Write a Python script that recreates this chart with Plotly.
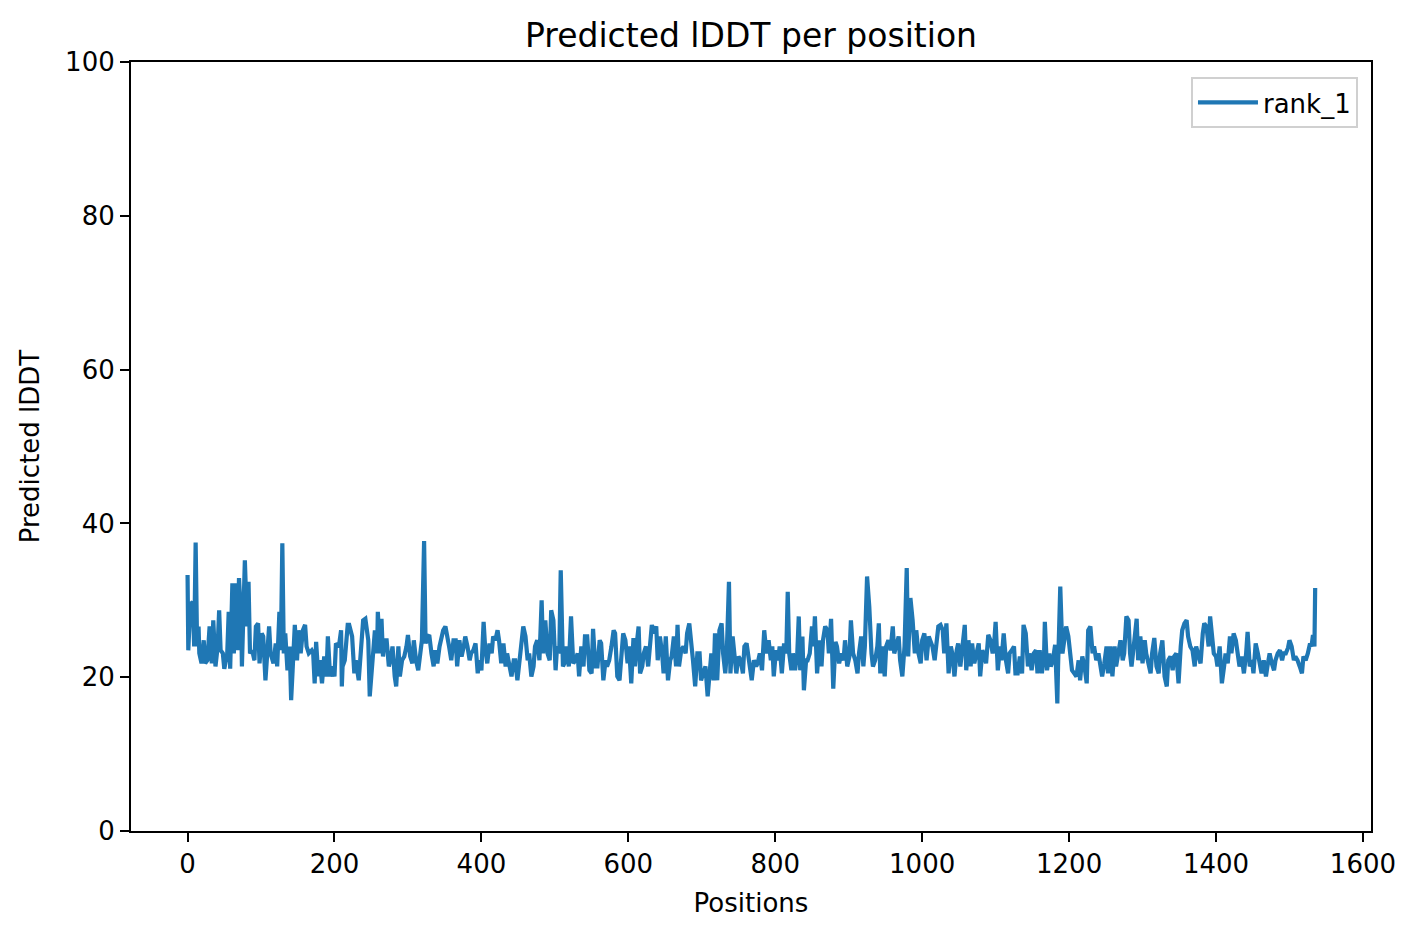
import plotly.graph_objects as go

# (position, predicted lDDT), split by region
seg_0_250 = [
    (0, 33.3), (1, 23.5), (3, 27.9), (5, 29.6), (7, 29.8), (9, 24.0), (11, 37.5), (13, 24.0),
    (15, 26.6), (16, 23.1), (19, 21.8), (22, 24.8), (24, 21.8), (27, 22.2), (30, 26.6), (33, 21.8),
    (35, 27.4), (38, 21.4), (41, 24.0), (43, 28.7), (45, 23.5), (48, 23.1), (50, 21.1), (54, 23.1),
    (56, 28.5), (58, 21.1), (61, 32.2), (63, 23.1), (66, 32.2), (68, 23.5), (70, 32.9), (73, 27.4),
    (74, 21.4), (78, 35.2), (81, 26.6), (83, 32.4), (85, 23.1), (88, 23.5), (91, 22.2), (93, 26.6),
    (96, 27.0), (98, 21.8), (101, 25.7), (103, 25.3), (106, 19.6), (109, 24.0), (111, 26.6), (113, 23.1),
    (117, 21.8), (120, 24.4), (122, 21.4), (125, 28.5), (127, 23.5), (129, 37.4), (131, 23.1), (133, 25.7),
    (136, 20.9), (139, 24.0), (141, 17.0), (143, 20.9), (146, 26.8), (149, 22.2), (151, 26.1), (154, 23.1),
    (157, 26.1), (160, 26.8), (162, 24.0), (165, 23.1), (169, 23.5), (171, 23.1), (173, 19.2), (175, 24.6),
    (178, 20.1), (180, 22.2), (183, 19.2), (186, 22.7), (189, 20.1), (191, 25.3), (194, 20.1), (197, 21.4),
    (200, 20.1), (202, 24.4), (206, 24.0), (209, 26.1), (210, 18.8), (211, 21.4), (214, 22.2), (218, 26.8),
    (220, 26.8), (224, 25.3), (227, 20.5), (229, 22.2), (233, 19.6), (237, 25.7), (239, 27.4), (242, 27.6),
    (246, 24.8), (248, 17.5),
]

seg_250_506 = [
    (252, 22.2), (255, 26.1), (258, 23.1), (259, 28.5), (262, 23.1), (264, 27.6), (266, 22.7), (268, 24.8),
    (271, 24.8), (274, 21.4), (277, 22.7), (279, 24.0), (282, 20.1), (284, 18.8), (287, 24.0), (289, 20.1),
    (292, 22.2), (295, 22.7), (298, 24.0), (300, 25.5), (303, 22.7), (306, 21.8), (308, 24.8), (311, 22.2),
    (314, 20.9), (317, 23.1), (319, 24.8), (322, 37.7), (324, 24.4), (327, 25.3), (329, 25.5), (332, 23.1),
    (335, 21.4), (337, 23.5), (340, 21.8), (343, 24.0), (346, 25.7), (348, 26.1), (351, 26.6), (354, 25.3),
    (356, 24.0), (359, 22.2), (362, 24.8), (365, 24.8), (367, 21.4), (370, 24.8), (373, 22.7), (376, 24.0),
    (378, 25.3), (381, 24.0), (384, 22.2), (386, 23.1), (389, 23.5), (392, 24.4), (395, 20.5), (397, 22.2),
    (400, 20.9), (403, 27.2), (405, 24.0), (408, 21.8), (411, 24.4), (414, 23.1), (416, 25.3), (419, 24.8),
    (422, 26.1), (424, 24.8), (427, 21.8), (430, 24.4), (433, 21.4), (435, 23.1), (438, 21.4), (441, 20.1),
    (444, 22.2), (446, 22.2), (449, 19.6), (452, 23.1), (454, 24.0), (457, 26.6), (460, 25.3), (463, 22.2),
    (465, 23.1), (468, 20.1), (471, 21.4), (473, 24.0), (476, 24.8), (479, 22.2), (482, 30.0), (484, 23.1),
    (487, 27.4), (490, 23.1), (493, 22.2), (495, 28.7), (498, 27.4), (501, 20.9), (503, 24.0), (506, 23.1),
]

seg_506_765 = [
    (508, 33.9), (511, 21.4), (513, 21.8), (516, 24.0), (519, 21.4), (522, 27.9), (525, 21.8), (528, 22.2),
    (531, 23.1), (533, 20.1), (536, 24.0), (539, 21.4), (541, 25.3), (544, 25.3), (547, 20.9), (550, 20.5),
    (552, 26.3), (555, 21.4), (558, 21.4), (561, 24.8), (563, 24.4), (566, 19.6), (569, 22.2), (571, 21.4),
    (574, 22.2), (577, 24.0), (580, 26.1), (582, 25.7), (585, 20.1), (588, 19.6), (590, 22.2), (593, 25.7),
    (596, 24.8), (599, 21.8), (601, 24.0), (604, 19.2), (607, 25.1), (609, 21.4), (612, 24.8), (614, 26.6),
    (616, 20.5), (619, 21.4), (621, 23.1), (624, 24.0), (627, 21.4), (630, 24.8), (632, 26.8), (635, 25.7),
    (638, 26.6), (640, 22.2), (643, 25.3), (646, 23.1), (648, 20.5), (651, 25.3), (654, 19.6), (657, 22.2),
    (659, 22.7), (662, 25.3), (665, 21.4), (667, 26.8), (669, 21.4), (672, 23.5), (675, 24.0), (678, 23.1),
    (680, 25.7), (683, 27.0), (686, 23.1), (688, 22.2), (691, 18.8), (694, 23.1), (697, 23.1), (699, 19.6),
    (702, 20.5), (705, 21.4), (708, 17.5), (710, 19.6), (713, 23.1), (716, 19.6), (718, 25.7), (721, 19.6),
    (724, 26.1), (727, 27.0), (729, 23.1), (732, 20.5), (734, 23.1), (737, 32.4), (739, 20.5), (742, 25.3),
    (745, 21.4), (747, 20.5), (750, 22.7), (753, 22.2), (756, 20.5), (758, 24.0), (761, 24.4), (764, 22.2),
]

seg_765_1035 = [
    (766, 20.5), (768, 19.6), (771, 22.2), (774, 21.4), (776, 21.8), (779, 23.1), (782, 20.9), (785, 26.1),
    (788, 23.1), (791, 24.8), (794, 22.2), (796, 24.0), (798, 20.1), (801, 23.5), (804, 22.2), (806, 24.0),
    (809, 20.5), (812, 24.4), (815, 23.1), (817, 31.1), (819, 23.1), (822, 20.9), (824, 23.1), (827, 20.9),
    (830, 23.1), (832, 27.9), (834, 20.9), (837, 25.3), (839, 18.3), (842, 22.2), (844, 22.2), (847, 23.1),
    (850, 26.6), (852, 24.0), (854, 27.9), (857, 20.5), (860, 24.8), (863, 21.4), (865, 24.8), (868, 26.6),
    (871, 26.1), (873, 23.1), (876, 27.6), (879, 18.5), (882, 24.6), (884, 24.0), (887, 21.8), (890, 23.1),
    (893, 22.2), (895, 24.8), (898, 21.4), (901, 22.7), (903, 27.4), (906, 23.1), (909, 22.2), (912, 20.5),
    (914, 23.1), (917, 25.3), (920, 21.4), (922, 24.0), (925, 33.1), (928, 29.2), (931, 23.1), (933, 21.4),
    (936, 22.2), (939, 24.0), (941, 27.0), (943, 20.5), (946, 24.0), (949, 20.1), (951, 24.0), (954, 24.8),
    (957, 23.5), (960, 26.6), (962, 23.1), (965, 24.0), (968, 25.3), (970, 22.2), (973, 20.1), (976, 24.0),
    (979, 34.2), (981, 22.7), (984, 30.3), (987, 27.4), (990, 23.1), (992, 26.1), (995, 23.1), (998, 21.8),
    (1000, 24.8), (1003, 25.7), (1006, 22.2), (1009, 25.3), (1011, 24.8), (1014, 24.0), (1017, 22.2), (1020, 24.8),
    (1022, 26.6), (1025, 26.8), (1028, 26.1), (1030, 23.1), (1033, 27.0),
]

seg_1035_1284 = [
    (1036, 20.5), (1039, 24.0), (1041, 23.1), (1044, 20.1), (1047, 23.5), (1049, 24.4), (1052, 21.4), (1055, 24.8),
    (1058, 26.8), (1060, 20.9), (1063, 24.8), (1066, 21.4), (1068, 24.4), (1071, 21.8), (1074, 23.1), (1077, 24.4),
    (1079, 20.1), (1082, 23.5), (1085, 22.7), (1087, 21.8), (1090, 25.5), (1093, 24.8), (1096, 23.1), (1098, 24.4),
    (1100, 27.2), (1103, 20.9), (1106, 24.0), (1108, 22.2), (1111, 25.7), (1114, 22.2), (1117, 20.5), (1119, 23.1),
    (1122, 23.5), (1125, 24.0), (1127, 20.5), (1130, 20.5), (1133, 22.7), (1136, 20.5), (1138, 26.8), (1141, 25.7),
    (1144, 21.4), (1146, 23.1), (1149, 20.9), (1152, 23.1), (1155, 23.5), (1157, 20.5), (1160, 23.5), (1163, 20.5),
    (1166, 23.1), (1167, 27.2), (1170, 20.9), (1173, 23.1), (1175, 21.4), (1178, 22.2), (1181, 24.2), (1184, 16.6),
    (1185, 21.4), (1188, 31.8), (1191, 23.1), (1194, 25.3), (1196, 26.6), (1199, 25.3), (1202, 23.1), (1204, 20.9),
    (1207, 20.5), (1210, 20.1), (1213, 22.2), (1215, 19.6), (1218, 22.7), (1221, 21.4), (1224, 19.2), (1226, 26.1),
    (1229, 26.6), (1232, 23.1), (1234, 24.0), (1237, 22.2), (1240, 23.1), (1243, 21.4), (1245, 20.1), (1248, 21.8),
    (1251, 24.0), (1253, 20.5), (1256, 24.0), (1259, 20.1), (1262, 24.0), (1264, 21.4), (1267, 23.1), (1270, 24.8),
    (1273, 22.2), (1275, 23.1), (1278, 27.9), (1281, 27.4), (1283, 23.1),
]

seg_1284_end = [
    (1285, 21.4), (1288, 24.0), (1292, 27.6), (1294, 22.2), (1297, 25.3), (1300, 21.8), (1303, 24.8), (1305, 23.1),
    (1308, 21.4), (1311, 20.5), (1313, 23.1), (1316, 25.1), (1319, 21.4), (1322, 20.5), (1324, 23.1), (1327, 24.8),
    (1330, 20.1), (1333, 18.8), (1335, 22.2), (1338, 22.7), (1341, 20.9), (1343, 22.7), (1346, 23.1), (1349, 19.2),
    (1352, 24.0), (1354, 26.1), (1357, 27.0), (1360, 27.4), (1362, 25.3), (1365, 24.0), (1368, 23.5), (1371, 21.4),
    (1373, 24.0), (1376, 23.1), (1379, 21.8), (1382, 25.7), (1384, 27.0), (1387, 26.6), (1390, 24.0), (1392, 27.9),
    (1394, 25.3), (1397, 23.1), (1400, 22.7), (1402, 21.4), (1405, 24.0), (1408, 19.2), (1411, 21.4), (1413, 23.1),
    (1416, 21.8), (1419, 25.3), (1421, 23.1), (1424, 25.7), (1427, 24.8), (1430, 22.2), (1432, 21.4), (1435, 22.7),
    (1438, 20.5), (1441, 23.1), (1443, 25.9), (1446, 21.4), (1449, 22.2), (1451, 20.5), (1454, 24.4), (1457, 23.1),
    (1460, 21.4), (1462, 20.5), (1465, 22.2), (1468, 20.1), (1470, 21.4), (1473, 23.1), (1476, 21.8), (1479, 20.9),
    (1481, 22.2), (1484, 23.1), (1487, 23.5), (1490, 22.2), (1492, 23.1), (1495, 23.1), (1498, 23.8), (1500, 24.8),
    (1503, 24.0), (1506, 22.2), (1508, 22.7), (1511, 22.2), (1514, 21.4), (1517, 20.5), (1519, 22.7), (1522, 22.2),
    (1525, 23.1), (1528, 24.4), (1530, 24.0), (1532, 25.5), (1534, 24.0), (1535, 31.6),
]

x_ticks = [0, 200, 400, 600, 800, 1000, 1200, 1400, 1600]
y_ticks = [0, 20, 40, 60, 80, 100]

points = seg_0_250 + seg_250_506 + seg_506_765 + seg_765_1035 + seg_1035_1284 + seg_1284_end
positions = [p for p, v in points]
lddt = [v for p, v in points]

FONT = "DejaVu Sans"

fig = go.Figure()
fig.add_trace(go.Scatter(
    x=positions,
    y=lddt,
    mode="lines",
    name="rank_1",
    line=dict(color="#1f77b4", width=4.2),
))

axis_common = dict(
    showline=True,
    linecolor="black",
    linewidth=2.1,
    mirror=True,
    ticks="outside",
    ticklen=9,
    tickwidth=2.1,
    tickcolor="black",
    showgrid=False,
    zeroline=False,
    tickfont=dict(family=FONT, size=26, color="black"),
)

# the page body has an 8px margin, so the figure is 16px smaller than the window
fig.update_layout(
    width=1402,
    height=923,
    paper_bgcolor="white",
    plot_bgcolor="white",
    margin=dict(l=123, r=39, t=54, b=100),
    font=dict(family=FONT, color="black"),
    title=dict(
        text="Predicted lDDT per position",
        x=0.5, xref="paper", xanchor="center",
        y=1 - 27 / 923, yref="container", yanchor="middle",
        font=dict(family=FONT, size=33, color="black"),
    ),
    xaxis=dict(
        range=[-77, 1611],
        tickvals=x_ticks,
        title=dict(text="Positions", font=dict(family=FONT, size=26), standoff=16),
        **axis_common,
    ),
    yaxis=dict(
        range=[0, 100],
        tickvals=y_ticks,
        title=dict(text="Predicted lDDT", font=dict(family=FONT, size=26), standoff=18),
        **axis_common,
    ),
    showlegend=True,
    legend=dict(
        x=0.9895, y=0.9805, xanchor="right", yanchor="top",
        bgcolor="white",
        bordercolor="#d0d0d0",
        borderwidth=2,
        itemwidth=60,
        font=dict(family=FONT, size=26, color="black"),
    ),
)

fig.write_html("out.html")
